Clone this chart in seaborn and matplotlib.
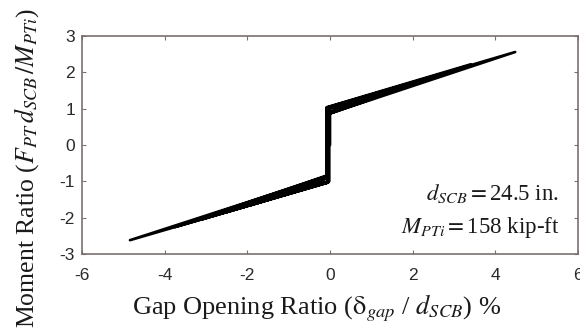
import matplotlib
matplotlib.use("Agg")
import matplotlib.pyplot as plt
import seaborn as sns
import pandas as pd

# Cyclic gap-opening response: vertices of the load path (gap ratio %, moment ratio)
gap_ratio = [0.0, 0.0, 0.60, -0.02, -0.02, -0.60, -0.04, -0.04, 1.20, -0.03, -0.03,
             -1.20, -0.05, -0.05, 1.80, -0.04, -0.04, -1.90, -0.06, -0.06, 2.30,
             -0.05, -0.05, -2.50, -0.07, -0.07, 2.80, -0.06, -0.06, -3.10, -0.08,
             -0.08, 3.40, -0.06, -0.06, -3.75, -0.08, -0.08, 4.48, -0.05, -0.05,
             -4.84, -0.07, -0.07]
moment_ratio = [0.0, 1.00, 1.21, 0.90, -1.00, -1.20, -0.90, 1.02, 1.43, 0.88, -1.02,
                -1.41, -0.88, 1.01, 1.64, 0.87, -1.01, -1.65, -0.87, 1.03, 1.82,
                0.86, -1.03, -1.85, -0.86, 1.02, 1.99, 0.85, -1.02, -2.05, -0.85,
                1.04, 2.22, 0.84, -1.04, -2.26, -0.84, 1.03, 2.56, 0.85, -1.03,
                -2.62, -0.86, 0.0]

x_ticks = [-6, -4, -2, 0, 2, 4, 6]
y_ticks = [-3, -2, -1, 0, 1, 2, 3]

sns.set_style("ticks")
plt.rcParams["font.family"] = ["Liberation Serif", "DejaVu Serif"]
plt.rcParams["mathtext.fontset"] = "stix"
plt.rcParams["axes.unicode_minus"] = False

df = pd.DataFrame({"gap": gap_ratio, "moment": moment_ratio, "step": range(len(gap_ratio))})

fig = plt.figure(figsize=(5.8, 3.35), dpi=100)
ax = fig.add_axes([0.1414, 0.2418, 0.8552, 0.6507])

sns.lineplot(data=df, x="gap", y="moment", sort=False, estimator=None,
             color="black", linewidth=1.9, ax=ax)

ax.set_xlim(-6, 6)
ax.set_ylim(-3, 3)
ax.set_xticks(x_ticks)
ax.set_yticks(y_ticks)
spine_col = "#7a6f6f"
for s in ax.spines.values():
    s.set_visible(True)
    s.set_color(spine_col)
    s.set_linewidth(1.2)
ax.tick_params(direction="in", length=3, width=0.8, color=spine_col,
               top=True, right=True, labelsize=12.5, labelcolor="#2a2a2a")
ax.tick_params(axis="x", pad=10)
ax.tick_params(axis="y", pad=5)
for lab in ax.get_xticklabels() + ax.get_yticklabels():
    lab.set_family("Liberation Sans")

ax.set_xlabel(r"Gap Opening Ratio ($\mathrm{\delta}_{gap}$ / $d_{SCB}$) %",
              fontsize=19, color="#1a1a1a")
ax.xaxis.set_label_coords(0.472, -0.175)
ax.set_ylabel(r"Moment Ratio ($F_{PT}\,d_{SCB}\,/M_{PTi}$)",
              fontsize=18.5, color="#1a1a1a")
ax.yaxis.set_label_coords(-0.083, 0.395)

ax.text(0.962, 0.25, r"$d_{SCB}=$24.5 in.", transform=ax.transAxes,
        ha="right", va="baseline", fontsize=16.5, color="#1a1a1a")
ax.text(0.962, 0.095, r"$M_{PTi}=$158 kip-ft", transform=ax.transAxes,
        ha="right", va="baseline", fontsize=16.5, color="#1a1a1a")

fig.savefig("out.png", dpi=100)
